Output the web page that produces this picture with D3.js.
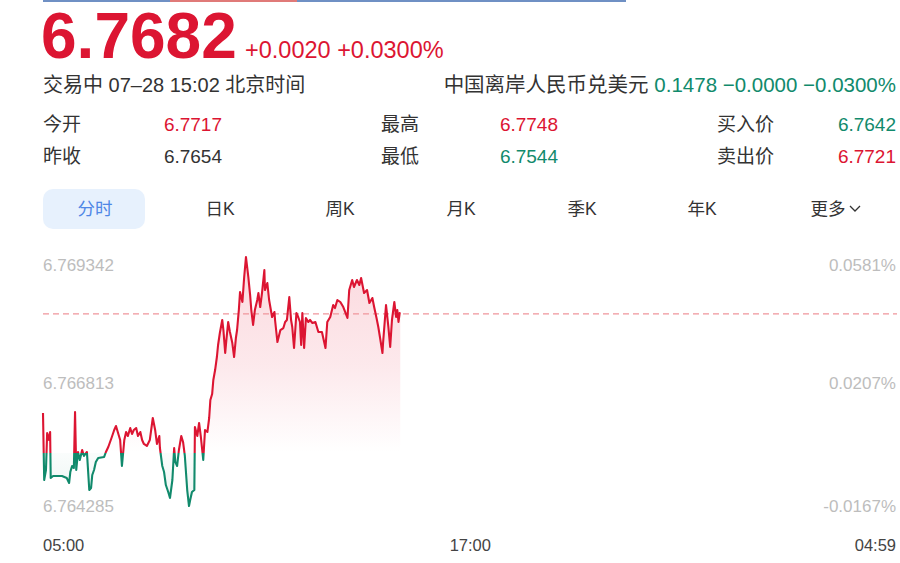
<!DOCTYPE html>
<html>
<head>
<meta charset="utf-8">
<script src="https://cdn.jsdelivr.net/npm/d3@7"></script>
<style>
  html, body { margin: 0; padding: 0; background: #fff; }
  svg { display: block; font-family: "Liberation Sans", "Noto Sans CJK SC", sans-serif; }
</style>
</head>
<body>
<svg id="chart" width="900" height="563"></svg>
<script>
// ---------- data ----------
const minutes = [0,2,5,7,10,12,13,17,32,40,44,46,49,52,54,56,59,62,66,69,74,78,81,83,86,89,93,103,106,110,113,116,120,123,126,130,133,137,140,143,147,150,153,157,160,164,167,170,175,180,185,189,192,196,197,201,204,207,211,214,218,221,223,226,229,233,236,239,243,246,248,251,255,256,260,263,266,270,273,277,280,282,285,287,290,293,295,298,302,304,307,309,312,315,319,322,325,327,330,332,336,339,342,346,349,351,354,357,361,363,366,369,373,374,378,381,386,390,391,395,400,405,408,411,415,418,420,423,427,430,433,435,437,440,443,447,450,454,459,464,470,476,479,484,489,492,496,501,506,513,516,521,524,529,533,536,541,546,550,555,558,562,565,568,572,573,578,582,585,588,592,595,597,599,601,602];
const prices = [6.766211,6.764867,6.765068,6.765810,6.765670,6.765830,6.764907,6.764947,6.764947,6.764907,6.764807,6.765027,6.765148,6.765108,6.766231,6.765068,6.765429,6.765268,6.765469,6.765349,6.765429,6.764666,6.764706,6.764967,6.765068,6.765228,6.765309,6.765329,6.765429,6.765529,6.765630,6.765730,6.765870,6.765951,6.765830,6.765670,6.765148,6.765670,6.765830,6.765750,6.765910,6.765790,6.765870,6.765910,6.765750,6.765830,6.765670,6.765590,6.765550,6.765670,6.766111,6.765870,6.765590,6.765750,6.765509,6.765148,6.765027,6.764766,6.764626,6.764506,6.764867,6.765509,6.765228,6.765148,6.765469,6.765750,6.765630,6.765349,6.764666,6.764345,6.764465,6.764626,6.764666,6.765931,6.765750,6.766011,6.765730,6.765268,6.765870,6.765830,6.766111,6.766472,6.766592,6.766874,6.767074,6.767335,6.767576,6.767817,6.768078,6.767877,6.767415,6.767676,6.768038,6.767837,6.767616,6.767335,6.767716,6.767877,6.768278,6.768639,6.768439,6.768940,6.769342,6.768940,6.768579,6.768278,6.767978,6.768278,6.768479,6.768619,6.768338,6.768619,6.769081,6.768679,6.768820,6.768479,6.768138,6.768238,6.768078,6.767636,6.767877,6.767917,6.768038,6.768078,6.768539,6.768078,6.767937,6.767516,6.768218,6.768138,6.768038,6.767576,6.768218,6.767516,6.768118,6.768038,6.768078,6.768017,6.768038,6.767837,6.767837,6.767516,6.768038,6.768138,6.768378,6.768318,6.768479,6.768439,6.768338,6.768118,6.768679,6.768880,6.768740,6.768880,6.768780,6.768920,6.768619,6.768679,6.768419,6.768519,6.768338,6.768118,6.767937,6.767716,6.767415,6.767616,6.768378,6.767937,6.767536,6.768078,6.768439,6.768138,6.768278,6.768038,6.768218,6.768200];

const prevClose = 6.76541;
const lastPrice = 6.7682;
const priceTicks = [6.769342, 6.766813, 6.764285];
const priceTickLabels = ["6.769342", "6.766813", "6.764285"];
const pctTickLabels = ["0.0581%", "0.0207%", "-0.0167%"];
const timeTicks = [0, 720, 1439];
const timeTickLabels = ["05:00", "17:00", "04:59"];
const tabs = ["分时", "日K", "周K", "月K", "季K", "年K", "更多"];

const RED = "#dc1532", GREEN = "#118a6c", DARK = "#333333";

const svg = d3.select("#chart");

// ---------- top strip ----------
svg.append("rect").attr("x", 43).attr("y", 0).attr("width", 583).attr("height", 2).attr("fill", "#6f90c4");
svg.append("rect").attr("x", 170).attr("y", 0).attr("width", 127).attr("height", 2).attr("fill", "#e07a78");

// ---------- header ----------
svg.append("text").attr("x", 41).attr("y", 58).attr("font-size", 64).attr("font-weight", "bold")
  .attr("fill", RED).text("6.7682");
svg.append("text").attr("x", 245).attr("y", 58).attr("font-size", 23.5).attr("fill", RED)
  .text("+0.0020 +0.0300%");
svg.append("text").attr("x", 43).attr("y", 92).attr("font-size", 20).attr("fill", DARK)
  .text("交易中 07–28 15:02 北京时间");
const r2 = svg.append("text").attr("x", 896).attr("y", 92).attr("font-size", 20.5).attr("text-anchor", "end");
r2.append("tspan").attr("fill", DARK).text("中国离岸人民币兑美元 ");
r2.append("tspan").attr("fill", GREEN).text("0.1478 −0.0000 −0.0300%");

const infoRows = [
  {y: 131, items: [["今开", 43, "6.7717", 222, RED], ["最高", 381, "6.7748", 558, RED], ["买入价", 717, "6.7642", 896, GREEN]]},
  {y: 163, items: [["昨收", 43, "6.7654", 222, DARK], ["最低", 381, "6.7544", 558, GREEN], ["卖出价", 717, "6.7721", 896, RED]]}
];
infoRows.forEach(r => r.items.forEach(it => {
  svg.append("text").attr("x", it[1]).attr("y", r.y).attr("font-size", 19).attr("fill", DARK).text(it[0]);
  svg.append("text").attr("x", it[3]).attr("y", r.y).attr("font-size", 19).attr("fill", it[4])
    .attr("text-anchor", "end").text(it[2]);
}));

// ---------- tabs ----------
svg.append("rect").attr("x", 43).attr("y", 189).attr("width", 102).attr("height", 40).attr("rx", 10)
  .attr("fill", "#e7f1fd");
const tabX = [95, 220, 340, 461, 582, 702, 828];
tabs.forEach((t, i) => {
  svg.append("text").attr("x", tabX[i]).attr("y", 215).attr("font-size", 17.5)
    .attr("text-anchor", "middle").attr("fill", i === 0 ? "#4f87e6" : DARK).text(t);
});
svg.append("path").attr("d", "M850,206 L855,211 L860,206").attr("fill", "none")
  .attr("stroke", DARK).attr("stroke-width", 1.3);

// ---------- chart ----------
const x = d3.scaleLinear().domain([0, 1439]).range([43, 897]);
const y = d3.scaleLinear().domain([priceTicks[2], priceTicks[0]]).range([509, 257]);
const data = minutes.map((m, i) => ({m, p: prices[i]}));
const yBase = y(prevClose);
const frac = (yBase - 257) / (509 - 257);

const defs = svg.append("defs");
const lg = defs.append("linearGradient").attr("id", "lineGrad").attr("gradientUnits", "userSpaceOnUse")
  .attr("x1", 0).attr("y1", 257).attr("x2", 0).attr("y2", 509);
lg.append("stop").attr("offset", 0).attr("stop-color", RED);
lg.append("stop").attr("offset", frac).attr("stop-color", RED);
lg.append("stop").attr("offset", frac).attr("stop-color", GREEN);
lg.append("stop").attr("offset", 1).attr("stop-color", GREEN);

const ag = defs.append("linearGradient").attr("id", "areaGrad").attr("gradientUnits", "userSpaceOnUse")
  .attr("x1", 0).attr("y1", 257).attr("x2", 0).attr("y2", 509);
ag.append("stop").attr("offset", 0).attr("stop-color", "#e8203e").attr("stop-opacity", 0.17);
ag.append("stop").attr("offset", frac * 0.55).attr("stop-color", "#e8203e").attr("stop-opacity", 0.10);
ag.append("stop").attr("offset", frac).attr("stop-color", "#e8203e").attr("stop-opacity", 0.0);
ag.append("stop").attr("offset", frac).attr("stop-color", "#118a6c").attr("stop-opacity", 0.02);
ag.append("stop").attr("offset", 1).attr("stop-color", "#118a6c").attr("stop-opacity", 0.10);

const area = d3.area().x(d => x(d.m)).y0(yBase).y1(d => y(d.p));
svg.append("path").datum(data).attr("d", area).attr("fill", "url(#areaGrad)");

svg.append("line").attr("x1", x(0)).attr("x2", x(1439)).attr("y1", y(lastPrice)).attr("y2", y(lastPrice))
  .attr("stroke", "#f0959c").attr("stroke-width", 1.3).attr("stroke-dasharray", "6,4");

const line = d3.line().x(d => x(d.m)).y(d => y(d.p));
svg.append("path").datum(data).attr("d", line).attr("fill", "none")
  .attr("stroke", "url(#lineGrad)").attr("stroke-width", 2.1).attr("stroke-linejoin", "round");

// ---------- axes labels ----------
const dyFor = [14, 6, 3];
priceTicks.forEach((v, i) => {
  svg.append("text").attr("x", 43).attr("y", y(v) + dyFor[i]).attr("font-size", 17)
    .attr("fill", "#bdbdbd").text(priceTickLabels[i]);
  svg.append("text").attr("x", 896).attr("y", y(v) + dyFor[i]).attr("font-size", 17)
    .attr("fill", "#bdbdbd").attr("text-anchor", "end").text(pctTickLabels[i]);
});
const anchors = ["start", "middle", "end"];
timeTicks.forEach((t, i) => {
  svg.append("text").attr("x", i === 2 ? 896 : x(t)).attr("y", 551).attr("font-size", 16.5)
    .attr("fill", "#444").attr("text-anchor", anchors[i]).text(timeTickLabels[i]);
});
</script>
</body>
</html>
